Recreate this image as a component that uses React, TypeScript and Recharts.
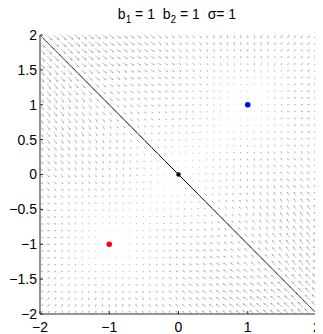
import React from 'react';
import { ScatterChart, Scatter, XAxis, YAxis, ReferenceLine, usePlotArea } from 'recharts';

// Model parameters shown in the title
const B1 = 1;
const B2 = 1;
const SIGMA = 1;

// Axis ranges and ticks
const X_DOMAIN: [number, number] = [-2, 2];
const Y_DOMAIN: [number, number] = [-2, 2];
const X_TICKS = [-2, -1, 0, 1, 2];
const Y_TICKS = [-2, -1.5, -1, -0.5, 0, 0.5, 1, 1.5, 2];

// Sample coordinates of the vector field (41 x 41 lattice)
const GRID_X = Array.from({ length: 41 }, (_, i) => Math.round((-2 + i * 0.1) * 10) / 10);
const GRID_Y = GRID_X;

// Class centres and the midpoint
const POS_CENTER = [{ x: B1, y: B2 }];
const NEG_CENTER = [{ x: -B1, y: -B2 }];
const ORIGIN = [{ x: 0, y: 0 }];

// Decision boundary b1*x + b2*y = 0 across the plotted range
const BOUNDARY = [
  { x: -2, y: 2 },
  { x: 2, y: -2 },
];

// Score field of the two-component mixture with means ±(b1, b2) and variance σ²
type Cell = { x: number; y: number; du: number; dv: number };
function buildField(): Cell[] {
  const s2 = SIGMA * SIGMA;
  const raw: { x: number; y: number; u: number; v: number }[] = [];
  for (const y of GRID_Y) {
    for (const x of GRID_X) {
      const t = Math.tanh((x * B1 + y * B2) / s2);
      raw.push({ x, y, u: (t * B1 - x) / s2, v: (t * B2 - y) / s2 });
    }
  }
  // quiver-style autoscaling so the longest arrow fits its lattice cell
  const n = Math.sqrt(raw.length);
  const dx = (X_DOMAIN[1] - X_DOMAIN[0]) / n;
  const dy = (Y_DOMAIN[1] - Y_DOMAIN[0]) / n;
  const del = dx * dx + dy * dy;
  let maxLen = 0;
  for (const c of raw) maxLen = Math.max(maxLen, Math.sqrt((c.u * c.u + c.v * c.v) / del));
  const k = (0.9 * 0.9) / maxLen;
  return raw.map((c) => ({ x: c.x, y: c.y, du: c.u * k, dv: c.v * k }));
}
const FIELD = buildField();

const FONT = '"Liberation Sans", Arial, Helvetica, sans-serif';
const AXIS_COLOR = '#262626';
const TICK_LEN = 3;
const TICK_FONT = 14;

const fmt = (v: number) => String(v).replace('-', '\u2212');

function Arrow(props: any) {
  const area = usePlotArea();
  const { cx, cy, payload } = props;
  if (!area || cx == null || cy == null) return null;
  const kx = area.width / (X_DOMAIN[1] - X_DOMAIN[0]);
  const ky = area.height / (Y_DOMAIN[1] - Y_DOMAIN[0]);
  const u = payload.du * kx;
  const v = -payload.dv * ky;
  const tx = cx + u;
  const ty = cy + v;
  const a = 0.33;
  const b = 0.33;
  const h1x = tx - a * (u + b * v);
  const h1y = ty - a * (v - b * u);
  const h2x = tx - a * (u - b * v);
  const h2y = ty - a * (v + b * u);
  return (
    <path
      d={`M${cx},${cy}L${tx},${ty}M${h1x},${h1y}L${tx},${ty}L${h2x},${h2y}`}
      stroke="#a0a0a0"
      strokeWidth={0.6}
      fill="none"
    />
  );
}

function Dot(color: string, r: number) {
  return (p: any) => <circle cx={p.cx} cy={p.cy} r={r} fill={color} stroke="none" />;
}

function BottomTick(p: any) {
  return (
    <g>
      <line x1={p.x} y1={p.y} x2={p.x} y2={p.y - TICK_LEN} stroke={AXIS_COLOR} />
      <text x={p.x} y={p.y + 8} dy="0.71em" textAnchor="middle" fontFamily={FONT} fontSize={TICK_FONT} fill="#000">
        {fmt(p.payload.value)}
      </text>
    </g>
  );
}

function TopTick(p: any) {
  return <line x1={p.x} y1={p.y} x2={p.x} y2={p.y + TICK_LEN} stroke={AXIS_COLOR} />;
}

function LeftTick(p: any) {
  return (
    <g>
      <line x1={p.x} y1={p.y} x2={p.x + TICK_LEN} y2={p.y} stroke={AXIS_COLOR} />
      <text x={p.x - 3} y={p.y} dy="0.355em" textAnchor="end" fontFamily={FONT} fontSize={TICK_FONT} fill="#000">
        {fmt(p.payload.value)}
      </text>
    </g>
  );
}

function RightTick(p: any) {
  return <line x1={p.x} y1={p.y} x2={p.x - TICK_LEN} y2={p.y} stroke={AXIS_COLOR} />;
}

export default function App() {
  return (
    <div style={{ position: 'relative', width: 315, height: 326 }}>
      <div
        style={{
          position: 'absolute',
          left: 34,
          top: -2,
          width: 270,
          textAlign: 'center',
          fontFamily: FONT,
          fontSize: 14,
          lineHeight: '16px',
          whiteSpace: 'pre',
          color: '#000',
        }}
      >
        b<sub style={{ fontSize: 10 }}>1</sub> = {B1}  b<sub style={{ fontSize: 10 }}>2</sub> = {B2}  σ= {SIGMA}
      </div>
      <ScatterChart width={315} height={326} margin={{ top: 27, right: 6, bottom: 0, left: 0 }}>
        <XAxis
          dataKey="x"
          type="number"
          domain={X_DOMAIN}
          ticks={X_TICKS}
          height={20}
          tickSize={0}
          tickMargin={0}
          tick={BottomTick}
          axisLine={{ stroke: AXIS_COLOR }}
          tickLine={false}
          interval={0}
        />
        <XAxis
          xAxisId="top"
          orientation="top"
          type="number"
          domain={X_DOMAIN}
          ticks={X_TICKS}
          height={0}
          tickSize={0}
          tickMargin={0}
          tick={TopTick}
          axisLine={{ stroke: AXIS_COLOR }}
          tickLine={false}
          interval={0}
        />
        <YAxis
          dataKey="y"
          type="number"
          domain={Y_DOMAIN}
          ticks={Y_TICKS}
          width={32}
          tickSize={0}
          tickMargin={0}
          tick={LeftTick}
          axisLine={{ stroke: AXIS_COLOR }}
          tickLine={false}
          interval={0}
        />
        <YAxis
          yAxisId="right"
          orientation="right"
          type="number"
          domain={Y_DOMAIN}
          ticks={Y_TICKS}
          width={0}
          tickSize={0}
          tickMargin={0}
          tick={RightTick}
          axisLine={{ stroke: AXIS_COLOR }}
          tickLine={false}
          interval={0}
        />
        <Scatter data={FIELD} shape={(p: any) => <Arrow {...p} />} isAnimationActive={false} />
        <ReferenceLine segment={BOUNDARY} stroke="#000" strokeWidth={1} />
        <Scatter data={ORIGIN} shape={Dot('#000', 2.2)} isAnimationActive={false} />
        <Scatter data={POS_CENTER} shape={Dot('#0000ff', 2.8)} isAnimationActive={false} />
        <Scatter data={NEG_CENTER} shape={Dot('#ff0000', 2.8)} isAnimationActive={false} />
      </ScatterChart>
    </div>
  );
}
